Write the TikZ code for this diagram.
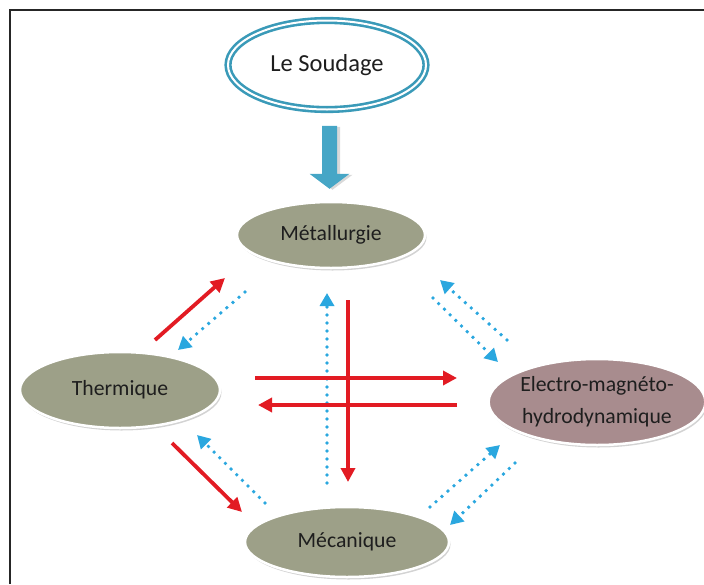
\documentclass[tikz,border=0pt]{standalone}
\usepackage{fontspec}
\setmainfont{Carlito}
\usetikzlibrary{shapes.geometric,arrows.meta,calc,shadows}
\definecolor{olivegris}{RGB}{157,160,136}
\definecolor{mauve}{RGB}{168,140,142}
\definecolor{soudbleu}{RGB}{58,154,184}
\definecolor{flechebleue}{RGB}{70,166,198}
\definecolor{rouge}{RGB}{226,27,35}
\definecolor{pointbleu}{RGB}{42,167,223}
\definecolor{texte}{RGB}{30,30,30}
\tikzset{
  domaine/.style={ellipse, fill=olivegris, draw=white, line width=2.5pt, inner sep=0pt, text=texte,
    font=\fontsize{21.7pt}{32pt}\selectfont, align=center,
    drop shadow={opacity=0.35, shadow xshift=1.5pt, shadow yshift=-2.5pt}},
  fleche rouge/.style={color=rouge, line width=3.8pt, -{Triangle[length=14pt,width=14pt]}},
  pointille bleu/.style={color=pointbleu, line width=3.8pt, line cap=round, dash pattern=on 0pt off 8pt,
    -{Triangle[length=13pt,width=14pt]}}
}
\begin{document}
\begin{tikzpicture}[x=1pt,y=-1pt]
   \useasboundingbox (0,0) rectangle (704,584);
   \draw[line width=1.6pt, black!85] (10,584) -- (10,10) -- (704,10);
   \node [ellipse, fill=white, draw=soudbleu, double=white, double distance=2pt, line width=2.6pt, minimum width=198pt,
     minimum height=89pt, text=texte, font=\fontsize{24.5pt}{30pt}\selectfont,
     drop shadow={opacity=0.2, shadow xshift=1pt, shadow yshift=-1.5pt}] (Soudage) at (327,65) {Le Soudage};
   \node [domaine, minimum width=188pt, minimum height=66pt] (Metal) at (331,235) {Métallurgie};
   \node [domaine, minimum width=200pt, minimum height=76pt] (Therm) at (120,390) {Thermique};
   \node [domaine, fill=mauve, minimum width=204pt, minimum height=86pt] (Electro) at (597,402) {Electro-magnéto-\\hydrodynamique};
   \node [domaine, minimum width=204pt, minimum height=70pt] (Meca) at (347,542) {Mécanique};
   \fill[flechebleue, drop shadow={opacity=0.3, shadow xshift=3pt, shadow yshift=-1pt}]
     ($(Soudage.south)+(-5,15)$) -- ++(15,0) -- ++(0,48) -- ++(12.5,0) -- ++(-20,15) -- ++(-20,-15) -- ++(12.5,0) -- cycle;
   \path[pointille bleu]
    ($(Metal)+(-86,57)$) edge ($(Therm)+(58,-40)$)
    ($(Meca)+(-82,-39)$) edge ($(Therm)+(77,45)$)
    ($(Meca)+(-20,-59)$) edge ($(Metal)+(-4,58)$)
    ($(Electro)+(-90,-62)$) edge ($(Metal)+(109,45)$)
    ($(Metal)+(102,63)$) edge ($(Electro)+(-99,-40)$)
    ($(Meca)+(83,-35)$) edge ($(Electro)+(-97,43)$)
    ($(Electro)+(-82,61)$) edge ($(Meca)+(103,-17)$);
   \path[fleche rouge]
    ($(Therm)+(35,-50)$) edge ($(Metal)+(-106,43)$)
    ($(Therm)+(52,53)$) edge ($(Meca)+(-105,-30)$)
    ($(Therm)+(135,-12)$) edge ($(Electro)+(-140,-24)$)
    ($(Electro)+(-140,3)$) edge ($(Therm)+(138,15)$)
    ($(Metal)+(17,65)$) edge ($(Meca)+(1,-60)$);
\end{tikzpicture}
\end{document}
